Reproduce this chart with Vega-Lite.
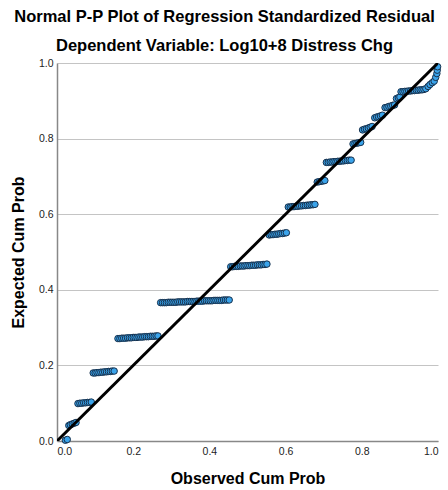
{
  "$schema": "https://vega.github.io/schema/vega-lite/v6.json",
  "width": 381,
  "height": 378,
  "autosize": "none",
  "padding": {"left": 57, "top": 63, "right": 10, "bottom": 49},
  "title": {
    "text": "Normal P-P Plot of Regression Standardized Residual",
    "subtitle": "Dependent Variable: Log10+8 Distress Chg",
    "anchor": "middle",
    "dx": -23,
    "offset": 4,
    "font": "Liberation Sans",
    "fontSize": 16.5,
    "fontWeight": "bold",
    "color": "#000000",
    "subtitleFont": "Liberation Sans",
    "subtitleFontSize": 16.5,
    "subtitleFontWeight": "bold",
    "subtitleColor": "#000000",
    "subtitlePadding": 12
  },
  "config": {
    "view": {"stroke": null},
    "axis": {
      "labelFont": "Liberation Sans",
      "labelFontSize": 10.5,
      "labelColor": "#222222",
      "titleFont": "Liberation Sans",
      "titleFontSize": 16,
      "titleFontWeight": "bold",
      "titleColor": "#000000",
      "domainColor": "#888888",
      "domainWidth": 1.5,
      "ticks": false,
      "gridColor": "#c4c4c4",
      "gridWidth": 1
    }
  },
  "datasets": {
    "pts": [
      {"x":0.022,"y":0.002},{"x":0.027,"y":0.004},
      {"x":0.031,"y":0.041},{"x":0.035,"y":0.043},{"x":0.040,"y":0.045},{"x":0.045,"y":0.047},{"x":0.050,"y":0.049},
      {"x":0.055,"y":0.099},{"x":0.060,"y":0.100},{"x":0.065,"y":0.100},{"x":0.070,"y":0.101},{"x":0.075,"y":0.101},{"x":0.080,"y":0.102},{"x":0.085,"y":0.102},{"x":0.090,"y":0.103},
      {"x":0.095,"y":0.180},{"x":0.100,"y":0.180},{"x":0.105,"y":0.181},{"x":0.110,"y":0.181},{"x":0.115,"y":0.182},{"x":0.120,"y":0.182},{"x":0.125,"y":0.183},{"x":0.130,"y":0.183},{"x":0.135,"y":0.184},{"x":0.140,"y":0.184},{"x":0.145,"y":0.185},{"x":0.150,"y":0.185},
      {"x":0.160,"y":0.271},{"x":0.165,"y":0.271},{"x":0.170,"y":0.272},{"x":0.175,"y":0.272},{"x":0.180,"y":0.272},{"x":0.185,"y":0.273},{"x":0.190,"y":0.273},{"x":0.195,"y":0.273},{"x":0.200,"y":0.274},{"x":0.205,"y":0.274},{"x":0.210,"y":0.274},{"x":0.215,"y":0.275},{"x":0.220,"y":0.275},{"x":0.225,"y":0.275},{"x":0.230,"y":0.276},{"x":0.235,"y":0.276},{"x":0.240,"y":0.276},{"x":0.245,"y":0.277},{"x":0.250,"y":0.277},{"x":0.255,"y":0.277},{"x":0.260,"y":0.278},{"x":0.265,"y":0.278},
      {"x":0.272,"y":0.366},{"x":0.277,"y":0.366},{"x":0.282,"y":0.366},{"x":0.287,"y":0.366},{"x":0.292,"y":0.367},{"x":0.297,"y":0.367},{"x":0.302,"y":0.367},{"x":0.307,"y":0.367},{"x":0.312,"y":0.367},{"x":0.317,"y":0.368},{"x":0.322,"y":0.368},{"x":0.327,"y":0.368},{"x":0.332,"y":0.368},{"x":0.337,"y":0.368},{"x":0.342,"y":0.369},{"x":0.347,"y":0.369},{"x":0.352,"y":0.369},{"x":0.357,"y":0.369},{"x":0.362,"y":0.369},{"x":0.367,"y":0.370},{"x":0.372,"y":0.370},{"x":0.377,"y":0.370},{"x":0.382,"y":0.370},{"x":0.387,"y":0.371},{"x":0.392,"y":0.371},{"x":0.397,"y":0.371},{"x":0.402,"y":0.371},{"x":0.407,"y":0.371},{"x":0.412,"y":0.372},{"x":0.417,"y":0.372},{"x":0.422,"y":0.372},{"x":0.427,"y":0.372},{"x":0.432,"y":0.372},{"x":0.437,"y":0.373},{"x":0.442,"y":0.373},{"x":0.447,"y":0.373},{"x":0.452,"y":0.373},
      {"x":0.456,"y":0.461},{"x":0.461,"y":0.461},{"x":0.466,"y":0.462},{"x":0.471,"y":0.462},{"x":0.476,"y":0.462},{"x":0.481,"y":0.463},{"x":0.486,"y":0.463},{"x":0.491,"y":0.463},{"x":0.496,"y":0.464},{"x":0.501,"y":0.464},{"x":0.506,"y":0.464},{"x":0.511,"y":0.465},{"x":0.516,"y":0.465},{"x":0.521,"y":0.465},{"x":0.526,"y":0.466},{"x":0.531,"y":0.466},{"x":0.536,"y":0.466},{"x":0.541,"y":0.467},{"x":0.546,"y":0.467},{"x":0.551,"y":0.468},
      {"x":0.557,"y":0.545},{"x":0.562,"y":0.546},{"x":0.567,"y":0.546},{"x":0.572,"y":0.547},{"x":0.577,"y":0.547},{"x":0.582,"y":0.548},{"x":0.587,"y":0.549},{"x":0.592,"y":0.549},{"x":0.597,"y":0.550},{"x":0.602,"y":0.551},
      {"x":0.607,"y":0.619},{"x":0.612,"y":0.619},{"x":0.617,"y":0.620},{"x":0.622,"y":0.620},{"x":0.627,"y":0.621},{"x":0.632,"y":0.621},{"x":0.637,"y":0.622},{"x":0.642,"y":0.622},{"x":0.647,"y":0.623},{"x":0.652,"y":0.623},{"x":0.657,"y":0.624},{"x":0.662,"y":0.624},{"x":0.667,"y":0.625},{"x":0.672,"y":0.625},{"x":0.677,"y":0.626},
      {"x":0.683,"y":0.685},{"x":0.688,"y":0.686},{"x":0.693,"y":0.687},{"x":0.698,"y":0.688},{"x":0.703,"y":0.689},
      {"x":0.707,"y":0.737},{"x":0.712,"y":0.737},{"x":0.717,"y":0.738},{"x":0.722,"y":0.738},{"x":0.727,"y":0.739},{"x":0.732,"y":0.739},{"x":0.737,"y":0.740},{"x":0.742,"y":0.740},{"x":0.747,"y":0.741},{"x":0.752,"y":0.741},{"x":0.757,"y":0.742},{"x":0.762,"y":0.742},{"x":0.767,"y":0.743},{"x":0.772,"y":0.743},
      {"x":0.777,"y":0.786},{"x":0.782,"y":0.787},{"x":0.787,"y":0.788},{"x":0.792,"y":0.789},{"x":0.797,"y":0.790},
      {"x":0.802,"y":0.823},{"x":0.807,"y":0.825},{"x":0.812,"y":0.826},{"x":0.817,"y":0.828},{"x":0.822,"y":0.830},{"x":0.827,"y":0.832},
      {"x":0.834,"y":0.855},{"x":0.839,"y":0.857},{"x":0.844,"y":0.858},{"x":0.849,"y":0.860},{"x":0.854,"y":0.862},
      {"x":0.861,"y":0.882},{"x":0.866,"y":0.883},{"x":0.871,"y":0.885},{"x":0.876,"y":0.886},{"x":0.881,"y":0.888},{"x":0.886,"y":0.889},
      {"x":0.891,"y":0.906},{"x":0.896,"y":0.908},{"x":0.900,"y":0.910},
      {"x":0.903,"y":0.924},{"x":0.908,"y":0.924},{"x":0.913,"y":0.925},{"x":0.918,"y":0.925},{"x":0.923,"y":0.926},{"x":0.928,"y":0.926},{"x":0.933,"y":0.927},{"x":0.938,"y":0.927},{"x":0.943,"y":0.928},{"x":0.948,"y":0.928},{"x":0.953,"y":0.929},{"x":0.958,"y":0.929},{"x":0.963,"y":0.930},
      {"x":0.968,"y":0.932},{"x":0.974,"y":0.938},{"x":0.979,"y":0.943},{"x":0.985,"y":0.948},{"x":0.990,"y":0.952},{"x":0.994,"y":0.962},{"x":0.997,"y":0.972},{"x":0.998,"y":0.981},{"x":0.999,"y":0.990}
    ],
    "ref": [
      {"x": 0, "y": 0},
      {"x": 1, "y": 1}
    ]
  },
  "layer": [
    {
      "data": {"name": "pts"},
      "mark": {"type": "point", "shape": "circle", "filled": true, "size": 42, "fill": "#3aa3ea", "stroke": "#17314d", "strokeWidth": 1, "opacity": 1},
      "encoding": {
        "x": {"field": "x", "type": "quantitative", "scale": {"domain": [0, 1], "nice": false},
          "axis": {"title": "Observed Cum Prob", "values": [0, 0.2, 0.4, 0.6, 0.8, 1.0], "format": ".1f", "grid": false, "labelPadding": 5, "titlePadding": 14}},
        "y": {"field": "y", "type": "quantitative", "scale": {"domain": [0, 1], "nice": false},
          "axis": {"title": "Expected Cum Prob", "values": [0, 0.2, 0.4, 0.6, 0.8, 1.0], "format": ".1f", "grid": true, "labelPadding": 4, "titlePadding": 12}}
      }
    },
    {
      "data": {"name": "ref"},
      "mark": {"type": "line", "color": "#000000", "strokeWidth": 3, "clip": true},
      "encoding": {
        "x": {"field": "x", "type": "quantitative"},
        "y": {"field": "y", "type": "quantitative"}
      }
    }
  ]
}
